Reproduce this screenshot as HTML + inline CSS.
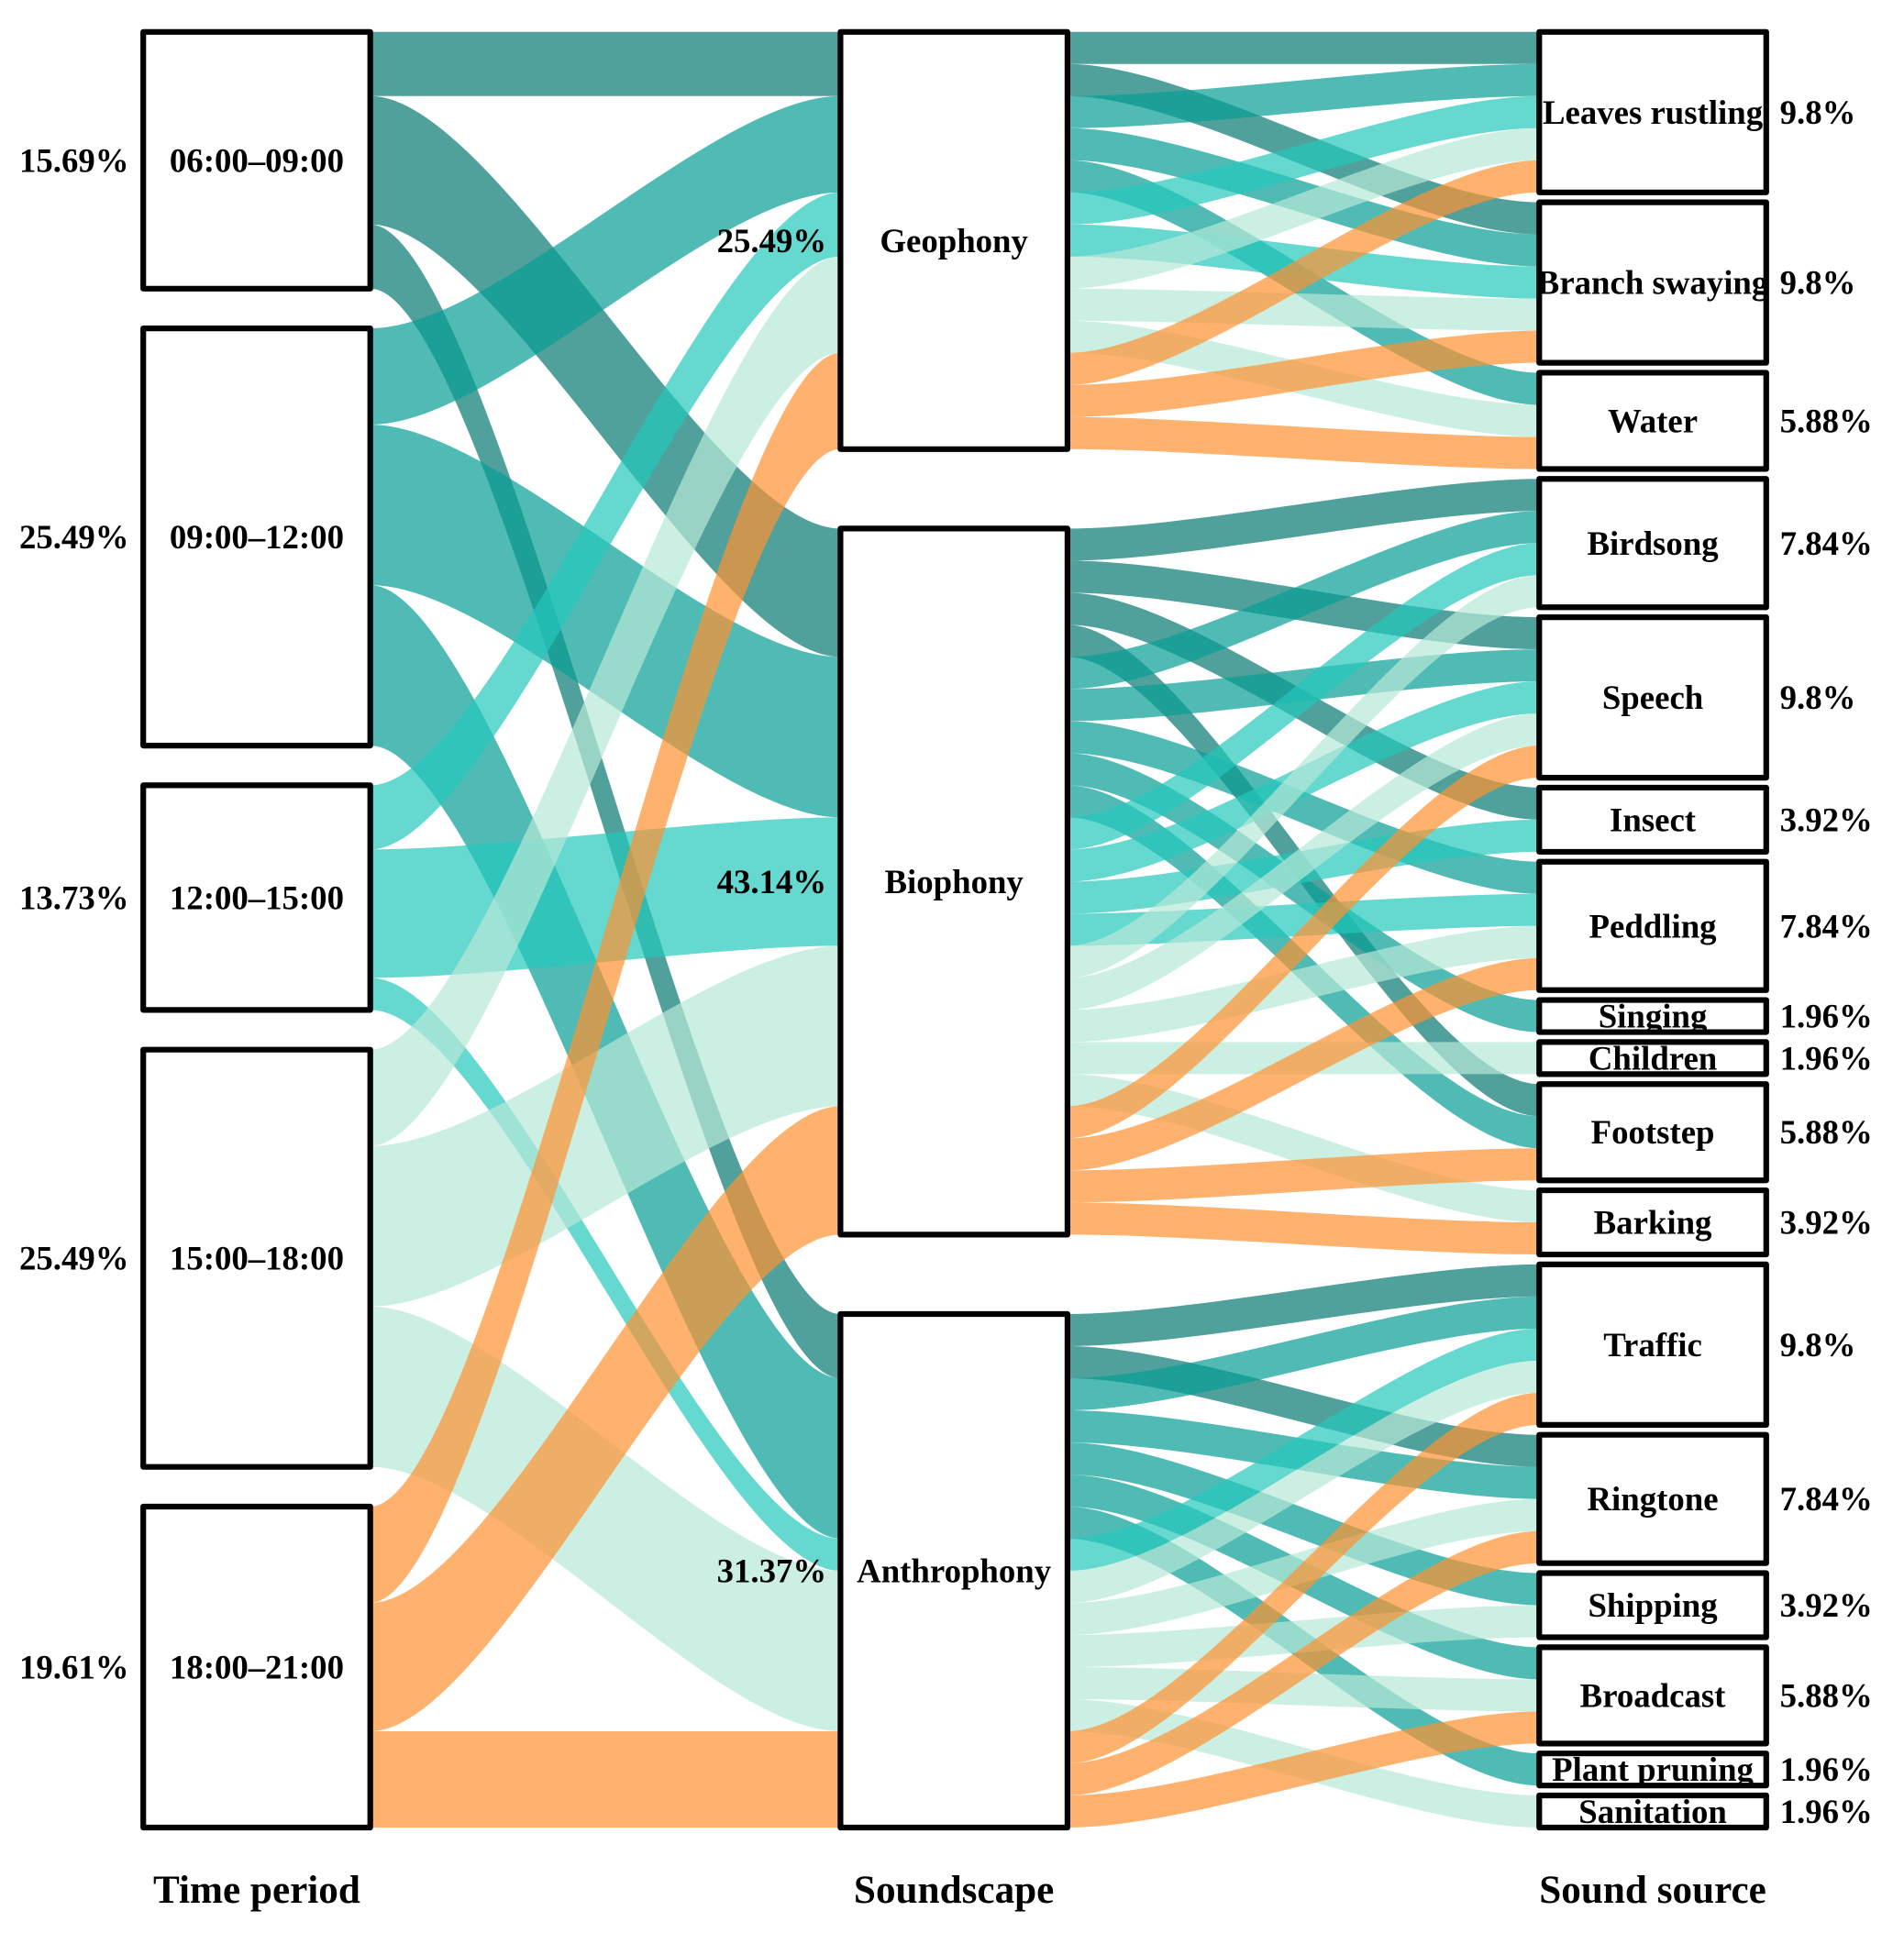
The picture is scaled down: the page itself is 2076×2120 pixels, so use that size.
<!DOCTYPE html>
<html lang="en">
<head>
<meta charset="utf-8">
<title>Soundscape alluvial diagram</title>
<style>
  html, body { margin: 0; padding: 0; background: #fff; }
  svg { display: block; }
  text { font-family: "Liberation Serif", serif; font-weight: bold; fill: #000; }
</style>
</head>
<body>
<svg id="chart" xmlns="http://www.w3.org/2000/svg" width="2076" height="2120" viewBox="0 0 2076 2120">
  <rect x="0" y="0" width="2076" height="2120" fill="#ffffff"></rect>
  <g id="flows"></g>
  <g id="nodes"></g>
  <g id="labels"></g>
</svg>
<script>
// ---- Data (units = number of observations) ----
const timeNames = ['06:00–09:00', '09:00–12:00', '12:00–15:00', '15:00–18:00', '18:00–21:00'];
const timeShares = ['15.69%', '25.49%', '13.73%', '25.49%', '19.61%'];
const scapeNames = ['Geophony', 'Biophony', 'Anthrophony'];
const scapeShares = ['25.49%', '43.14%', '31.37%'];
const sourceNames = ['Leaves rustling', 'Branch swaying', 'Water', 'Birdsong', 'Speech', 'Insect', 'Peddling', 'Singing', 'Children', 'Footstep', 'Barking', 'Traffic', 'Ringtone', 'Shipping', 'Broadcast', 'Plant pruning', 'Sanitation'];
const sourceShares = ['9.8%', '9.8%', '5.88%', '7.84%', '9.8%', '3.92%', '7.84%', '1.96%', '1.96%', '5.88%', '3.92%', '9.8%', '7.84%', '3.92%', '5.88%', '1.96%', '1.96%'];
const sourceScape = [0, 0, 0, 1, 1, 1, 1, 1, 1, 1, 1, 2, 2, 2, 2, 2, 2];
// units per source, one column per time period
const sourceByTime = [
  [1, 1, 1, 1, 1],
  [1, 1, 1, 1, 1],
  [0, 1, 0, 1, 1],
  [1, 1, 1, 1, 0],
  [1, 1, 1, 1, 1],
  [1, 0, 1, 0, 0],
  [0, 1, 1, 1, 1],
  [0, 1, 0, 0, 0],
  [0, 0, 0, 1, 0],
  [1, 1, 0, 0, 1],
  [0, 0, 0, 1, 1],
  [1, 1, 1, 1, 1],
  [1, 1, 0, 1, 1],
  [0, 1, 0, 1, 0],
  [0, 1, 0, 1, 1],
  [0, 1, 0, 0, 0],
  [0, 0, 0, 1, 0]
];
const timeColors = ['#057770', '#059e95', '#24c8bc', '#b6e8d7', '#ff9130'];
const axisTitles = ['Time period', 'Soundscape', 'Sound source'];

// ---- Axes / scales ----
const plotTop = 34.8, plotBottom = 1993;
const unitHeight = 35;
const ribbonOpacity = 0.7;
const curveKnot = 0.27;
const columnLeft = [156.2, 916.4, 1678.3];
const columnWidth = 247.5;
function columnX(i) { return columnLeft[i]; }
function columnCenter(i) { return columnLeft[i] + columnWidth / 2; }
function unitsToPx(u) { return u * unitHeight; }

function layoutNodes(counts) {
  const total = counts.reduce((a, b) => a + b, 0);
  const gap = (plotBottom - plotTop - unitsToPx(total)) / (counts.length - 1);
  const out = [];
  let y = plotTop;
  counts.forEach(c => {
    out.push({ y0: y, y1: y + unitsToPx(c), cursorOut: y, cursorIn: y });
    y += unitsToPx(c) + gap;
  });
  return out;
}

// ---- Aggregate the data ----
const nTimes = timeNames.length, nScapes = scapeNames.length;
const flowTS = timeNames.map(() => scapeNames.map(() => 0));
sourceByTime.forEach((row, s) => row.forEach((n, t) => { flowTS[t][sourceScape[s]] += n; }));
const timeCounts = flowTS.map(r => r.reduce((a, b) => a + b, 0));
const scapeCounts = scapeNames.map((_, k) => flowTS.reduce((a, r) => a + r[k], 0));
const sourceCounts = sourceByTime.map(r => r.reduce((a, b) => a + b, 0));

const timeNodes = layoutNodes(timeCounts);
const scapeNodes = layoutNodes(scapeCounts);
const sourceNodes = layoutNodes(sourceCounts);

// ---- Drawing helpers ----
const NS = 'http://www.w3.org/2000/svg';
const flowsG = document.getElementById('flows');
const nodesG = document.getElementById('nodes');
const labelsG = document.getElementById('labels');

function ribbonPath(x0, y0, x1, y1, h) {
  const w = x1 - x0, c0 = x0 + curveKnot * w, c1 = x1 - curveKnot * w;
  return 'M' + x0 + ' ' + y0 +
    'C' + c0 + ' ' + y0 + ' ' + c1 + ' ' + y1 + ' ' + x1 + ' ' + y1 +
    'L' + x1 + ' ' + (y1 + h) +
    'C' + c1 + ' ' + (y1 + h) + ' ' + c0 + ' ' + (y0 + h) + ' ' + x0 + ' ' + (y0 + h) + 'Z';
}
function addRibbon(x0, y0, x1, y1, h, t) {
  const p = document.createElementNS(NS, 'path');
  p.setAttribute('d', ribbonPath(x0, y0, x1, y1, h));
  p.setAttribute('fill', timeColors[t]);
  p.setAttribute('fill-opacity', ribbonOpacity);
  
  
  flowsG.appendChild(p);
}
function addText(parent, str, x, y, size, anchor) {
  const el = document.createElementNS(NS, 'text');
  el.setAttribute('x', x);
  el.setAttribute('y', y);
  el.setAttribute('font-size', size);
  el.setAttribute('text-anchor', anchor);
  el.textContent = str;
  parent.appendChild(el);
  return el;
}

// ---- Ribbons: time -> soundscape (one band per pair) ----
const scapeXStart = columnX(0) + columnWidth, scapeXEnd = columnX(1);
for (let t = 0; t < nTimes; t++) {
  for (let k = 0; k < nScapes; k++) {
    const h = unitsToPx(flowTS[t][k]);
    if (h === 0) continue;
    addRibbon(scapeXStart, timeNodes[t].cursorOut, scapeXEnd, scapeNodes[k].cursorIn, h, t);
    timeNodes[t].cursorOut += h;
    scapeNodes[k].cursorIn += h;
  }
}

// ---- Ribbons: soundscape -> source ----
const sourceXStart = columnX(1) + columnWidth, sourceXEnd = columnX(2);
for (let t = 0; t < nTimes; t++) {
  for (let k = 0; k < nScapes; k++) {
    sourceNames.forEach((_, s) => {
      if (sourceScape[s] !== k) return;
      const h = unitsToPx(sourceByTime[s][t]);
      if (h === 0) return;
      addRibbon(sourceXStart, scapeNodes[k].cursorOut, sourceXEnd, sourceNodes[s].cursorIn, h, t);
      scapeNodes[k].cursorOut += h;
      sourceNodes[s].cursorIn += h;
    });
  }
}

// ---- Nodes: white fill, label, then border on top (border may cut the label) ----
const labelSize = 36.8, titleSize = 43.2, baselineShift = 12.5;
function addNode(column, node, name) {
  const x = columnX(column), h = node.y1 - node.y0;
  const fill = document.createElementNS(NS, 'rect');
  fill.setAttribute('x', x);
  fill.setAttribute('y', node.y0);
  fill.setAttribute('width', columnWidth);
  fill.setAttribute('height', h);
  fill.setAttribute('fill', '#ffffff');
  
  
  nodesG.appendChild(fill);

  const label = addText(nodesG, name, columnCenter(column), (node.y0 + node.y1) / 2 + baselineShift, labelSize, 'middle');
  
  

  const border = document.createElementNS(NS, 'rect');
  border.setAttribute('x', x);
  border.setAttribute('y', node.y0);
  border.setAttribute('width', columnWidth);
  border.setAttribute('height', h);
  border.setAttribute('fill', 'none');
  border.setAttribute('stroke', '#000000');
  border.setAttribute('stroke-width', 6.2);
  border.setAttribute('stroke-linejoin', 'round');
  
  
  nodesG.appendChild(border);
}
timeNodes.forEach((n, i) => addNode(0, n, timeNames[i]));
scapeNodes.forEach((n, i) => addNode(1, n, scapeNames[i]));
sourceNodes.forEach((n, i) => addNode(2, n, sourceNames[i]));

// ---- Percent labels ----
timeNodes.forEach((n, i) => {
  const el = addText(labelsG, timeShares[i], 140.6, (n.y0 + n.y1) / 2 + baselineShift, labelSize, 'end');
  
  
});
scapeNodes.forEach((n, i) => {
  const el = addText(labelsG, scapeShares[i], 901.2, (n.y0 + n.y1) / 2 + baselineShift, labelSize, 'end');
  
  
});
sourceNodes.forEach((n, i) => {
  const el = addText(labelsG, sourceShares[i], 1940.6, (n.y0 + n.y1) / 2 + baselineShift, labelSize, 'start');
  
  
});

// ---- Axis titles ----
axisTitles.forEach((title, i) => {
  const el = addText(labelsG, title, columnCenter(i), 2075, titleSize, 'middle');
  
  
});
</script>
</body>
</html>
